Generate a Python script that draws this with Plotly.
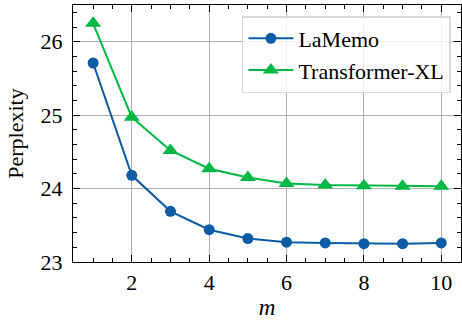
import plotly.graph_objects as go

m = [1, 2, 3, 4, 5, 6, 7, 8, 9, 10]
lamemo = [25.71, 24.18, 23.69, 23.44, 23.32, 23.27, 23.26, 23.25, 23.25, 23.26]
txl = [26.25, 24.97, 24.52, 24.27, 24.15, 24.07, 24.05, 24.04, 24.03, 24.03]
x_ticks = [2, 4, 6, 8, 10]
y_ticks = [23, 24, 25, 26]

FONT = "'Liberation Serif', serif"
fig = go.Figure()
fig.add_trace(go.Scatter(x=m, y=lamemo, mode="lines+markers", name="LaMemo",
                         line=dict(color="#0C5DA5", width=2),
                         marker=dict(symbol="circle", size=11, color="#0C5DA5")))
fig.add_trace(go.Scatter(x=m, y=txl, mode="lines+markers", name="Transformer-XL",
                         line=dict(color="#00B945", width=2),
                         marker=dict(symbol="triangle-up", size=14, color="#00B945")))

axis_common = dict(showline=True, linecolor="black", linewidth=1.2, mirror="allticks",
                   ticks="inside", ticklen=7, tickwidth=1, tickcolor="black",
                   showgrid=True, gridcolor="#b0b0b0", gridwidth=1, zeroline=False,
                   tickfont=dict(family=FONT, size=22, color="black"))
fig.update_xaxes(range=[0.48, 10.51], tickvals=x_ticks,
                 minor=dict(ticks="inside", dtick=0.5, tick0=0, ticklen=4, tickcolor="black", showgrid=False),
                 title=dict(text="<i>m</i>", font=dict(family=FONT, size=23, color="black"), standoff=6),
                 **axis_common)
fig.update_yaxes(range=[23, 26.5], tickvals=y_ticks,
                 minor=dict(ticks="inside", dtick=0.2, tick0=23, ticklen=4, tickcolor="black", showgrid=False),
                 title=dict(text="Perplexity", font=dict(family=FONT, size=22, color="black"), standoff=10),
                 ticklabelstandoff=5,
                 **axis_common)
fig.update_layout(width=462, height=320, margin=dict(l=73, r=1, t=5, b=58),
                  plot_bgcolor="white", paper_bgcolor="white",
                  font=dict(family=FONT, size=22, color="black"),
                  legend=dict(x=0.974, y=0.957, xanchor="right", yanchor="top",
                              bgcolor="rgba(255,255,255,0.8)", bordercolor="#d9d9d9", borderwidth=1.5,
                              font=dict(family=FONT, size=22, color="black"), itemwidth=45,
                              tracegroupgap=0),
                  showlegend=True)
fig.write_html("out.html")
